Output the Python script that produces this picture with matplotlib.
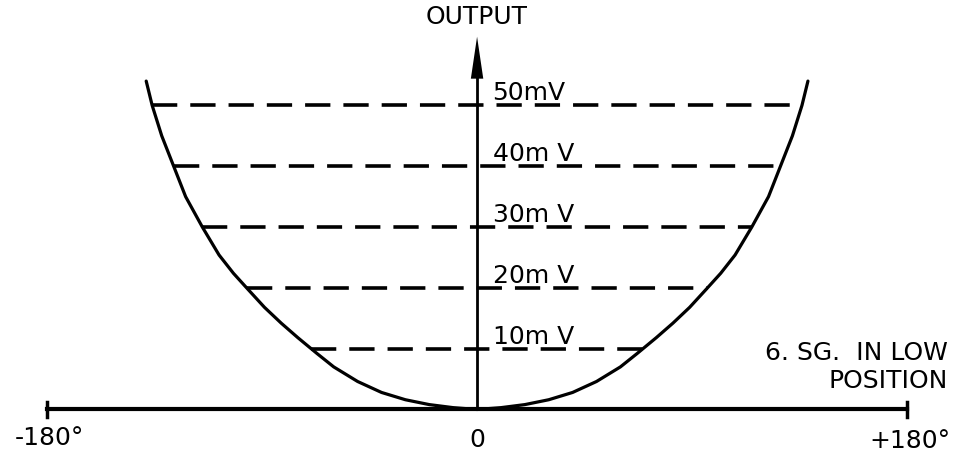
import matplotlib.pyplot as plt
import numpy as np

# output curve: rotation angle (deg) against output (mV), symmetric about 0
ANGLE = [0, 10, 20, 30, 40, 50, 60, 67, 75, 82, 89, 96, 102, 108, 115, 122, 127, 132, 136, 138.5]
OUTPUT_MV = [0, 0.3, 0.8, 1.6, 2.8, 4.6, 7.0, 9.2, 11.8, 14.2, 16.8, 19.8, 22.4, 25.4, 30.0, 35.0, 40.0, 45.0, 50.0, 54.0]

LEVELS = [10, 20, 30, 40, 50]
LEVEL_LABELS = ['10m V', '20m V', '30m V', '40m V', '50mV']

X_LABELS = ['-180°', '0', '+180°']
X_POS = [-180, 0, 180]

angle = np.array(ANGLE, dtype=float)
out = np.array(OUTPUT_MV, dtype=float)
curve_x = np.concatenate([-angle[::-1], angle[1:]])
curve_y = np.concatenate([out[::-1], out[1:]])

fig = plt.figure(figsize=(9.57, 4.52), dpi=100)
ax = fig.add_axes([0, 0, 1, 1])
ax.set_xlim(-199.7, 200.9)
ax.set_ylim(-6.83, 67.5)
ax.axis('off')

# the response curve
ax.plot(curve_x, curve_y, color='black', lw=2.3, solid_joinstyle='round',
        solid_capstyle='round')

# dashed output levels, running out to where they meet the curve
for level in LEVELS:
    reach = np.interp(level, out, angle)
    ax.plot([-reach, reach], [level, level], color='black', lw=2.6,
            dashes=(7.0, 3.6))

for level, label in zip(LEVELS, LEVEL_LABELS):
    ax.text(6.5, level + 1.0, label, fontsize=18, ha='left', va='baseline')

# horizontal angle axis with end stops
ax.plot([-180, 180], [0, 0], color='black', lw=3)
for end in (-180, 180):
    ax.plot([end, end], [-1.2, 1.2], color='black', lw=2.5)

# vertical output axis with long arrow head
ax.plot([0, 0], [0, 55], color='black', lw=2)
ax.fill([-2.6, 0, 2.6], [54.4, 61.3, 54.4], color='black', lw=0)
ax.text(0, 64.7, 'OUTPUT', fontsize=18, ha='center', va='center')

ax.text(-179.2, -5.7, X_LABELS[0], fontsize=18, ha='center', va='baseline')
ax.text(X_POS[1], -6.0, X_LABELS[1], fontsize=18, ha='center', va='baseline')
ax.text(181.3, -6.2, X_LABELS[2], fontsize=18, ha='center', va='baseline')

ax.text(197.2, 8.3, '6. SG.  IN LOW', fontsize=18, ha='right', va='baseline')
ax.text(197.2, 3.7, 'POSITION', fontsize=18, ha='right', va='baseline')

fig.savefig('out.png', dpi=100, facecolor='white')
